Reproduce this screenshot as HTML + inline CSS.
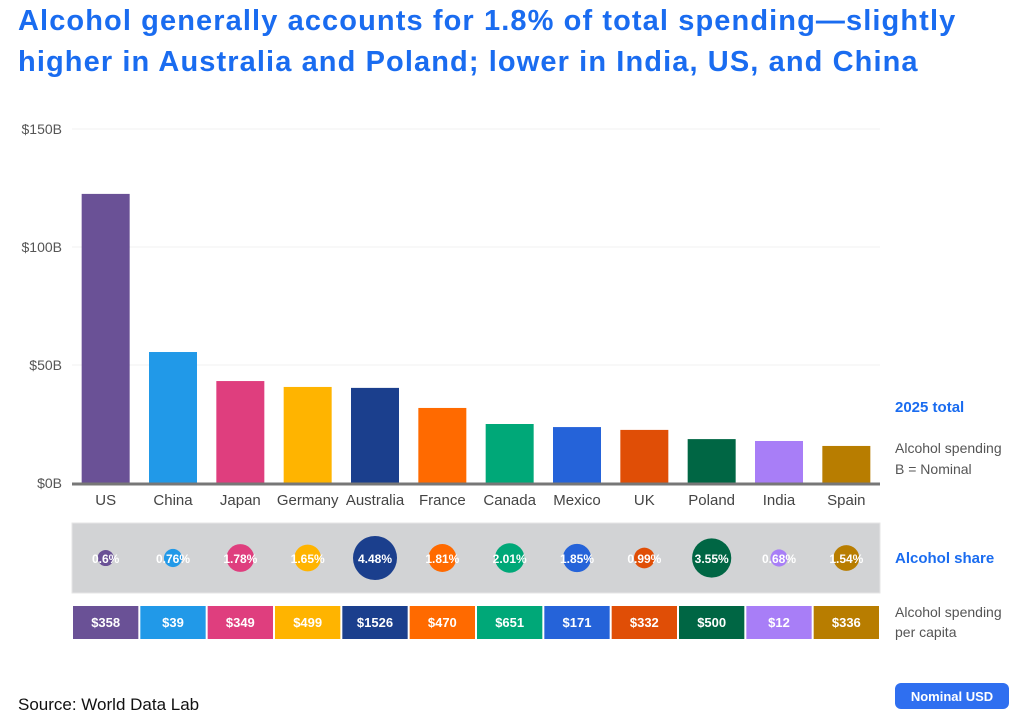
<!DOCTYPE html>
<html><head><meta charset="utf-8"><style>
body{margin:0;width:1023px;height:726px;background:#fff;font-family:"Liberation Sans",sans-serif;overflow:hidden;position:relative}
.t{position:absolute;left:18px;top:1px;font-size:29px;line-height:41px;color:#1a6cf0;font-weight:bold;letter-spacing:1.1px;white-space:nowrap}
svg{position:absolute;left:0;top:0}
</style></head><body>
<div class="t">Alcohol generally accounts for 1.8% of total spending—slightly<br>higher in Australia and Poland; lower in India, US, and China</div>
<svg width="1023" height="726" id="c"></svg>
<script>
const categories=["US","China","Japan","Germany","Australia","France","Canada","Mexico","UK","Poland","India","Spain"];
const totals=[122.5,55.5,43.2,40.7,40.3,31.8,25.0,23.7,22.5,18.6,17.8,15.7];
const shares=[0.6,0.76,1.78,1.65,4.48,1.81,2.01,1.85,0.99,3.55,0.68,1.54];
const perCapita=[358,39,349,499,1526,470,651,171,332,500,12,336];
const yTicks=[0,50,100,150];
const colors=["#6a5196","#2199e8","#df3e7e","#ffb400","#1b3f8d","#ff6a00","#00a878","#2563d9","#e04e06","#006644","#a87ef7","#b87d00"];
const NS="http://www.w3.org/2000/svg",svg=document.getElementById('c');
function mk(t,a,txt){const e=document.createElementNS(NS,t);for(const k in a)e.setAttribute(k,a[k]);if(txt!=null)e.textContent=txt;svg.appendChild(e);return e;}
const x0=72,x1=880,y0=483,yTop=129,step=(x1-x0)/categories.length;
const y=v=>y0-(v/150)*(y0-yTop);
const xc=i=>x0+step*(i+0.5);
yTicks.forEach(v=>{
 const l=mk('line',{x1:x0,x2:x1,y1:y(v),y2:y(v),stroke:'#f0f0f0','stroke-width':1});
 
 
 const t=mk('text',{x:62,y:y(v)+5,'text-anchor':'end','font-size':14,fill:'#555'},'$'+v+'B');
 
 
});
categories.forEach((c,i)=>{
 const b=mk('rect',{x:xc(i)-24,y:y(totals[i]),width:48,height:y0-y(totals[i]),fill:colors[i]});
 
 
 const t=mk('text',{x:xc(i),y:505,'text-anchor':'middle','font-size':15,fill:'#444'},c);
 
 
});
const ax=mk('line',{x1:x0,x2:x1,y1:y0+1,y2:y0+1,stroke:'#777','stroke-width':3});


const p=mk('rect',{x:x0,y:523,width:x1-x0,height:70,fill:'#d2d3d5',stroke:'#e6e6e6'});


shares.forEach((s,i)=>{
 const c=mk('circle',{cx:xc(i),cy:558,r:10.4*Math.sqrt(s),fill:colors[i]});
 
 
 const t=mk('text',{x:xc(i),y:563,'text-anchor':'middle','font-size':12,fill:'#fff','font-weight':'bold'},s+'%');
 
 
});
perCapita.forEach((v,i)=>{
 const r=mk('rect',{x:x0+step*i+1,y:606,width:step-2,height:33,fill:colors[i]});
 
 
 const t=mk('text',{x:xc(i),y:627,'text-anchor':'middle','font-size':13,fill:'#fff','font-weight':'bold'},'$'+v);
 
 
});
function side(txt,yy,o){const t=mk('text',Object.assign({x:895,y:yy,'font-size':14,fill:'#555'},o||{}),txt);return t;}
let s;
s=side('2025 total',412,{fill:'#1a6cf0','font-weight':'bold','font-size':15});
s=side('Alcohol spending',453);
s=side('B = Nominal',474);
s=side('Alcohol share',563,{fill:'#1a6cf0','font-weight':'bold','font-size':15});
s=side('Alcohol spending',617);
s=side('per capita',637);
s=mk('text',{x:18,y:710,'font-size':17,fill:'#111'},'Source: World Data Lab');
s=mk('rect',{x:895,y:683,width:114,height:26,rx:6,fill:'#2f6ff0'});
s=mk('text',{x:952,y:701,'text-anchor':'middle','font-size':13,'font-weight':'bold',fill:'#fff'},'Nominal USD');
</script>
</body></html>
